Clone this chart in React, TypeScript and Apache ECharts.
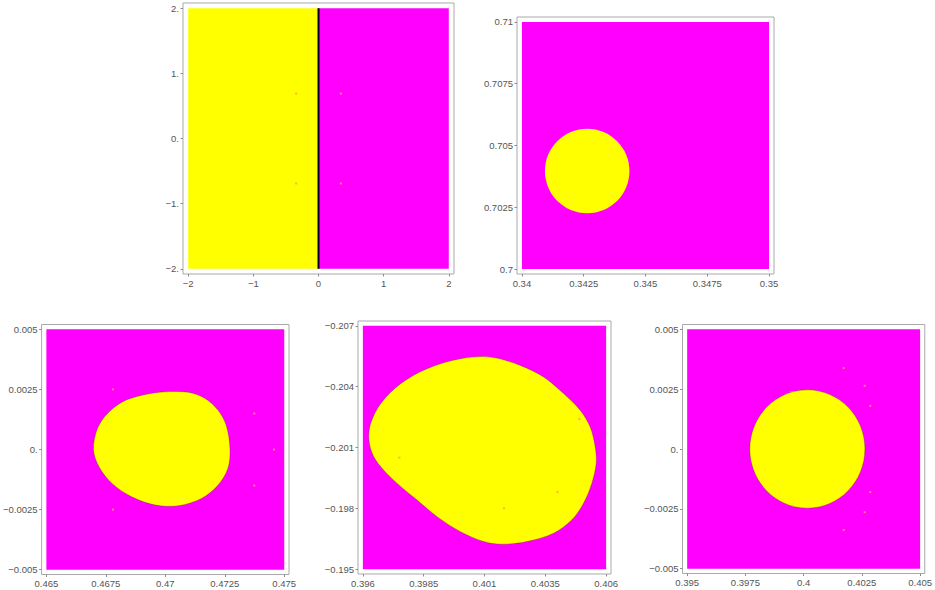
import React, { useEffect, useRef } from 'react';
import * as echarts from 'echarts';

// ---------- data ----------
// Panel 1
const p1XRange = [-2, 2];
const p1YRange = [-2, 2];
const p1XTicks = [-2, -1, 0, 1, 2];
const p1XLabels = ['−2', '−1', '0', '1', '2'];
const p1YTicks = [-2, -1, 0, 1, 2];
const p1YLabels = ['−2.', '−1.', '0.', '1.', '2.'];
const p1Split = 0; // yellow basin for x < 0, magenta for x > 0
const p1Dots = [[-0.343, 0.69], [0.343, 0.69], [-0.343, -0.69], [0.343, -0.69]];

// Panel 2
const p2XRange = [0.34, 0.35];
const p2YRange = [0.7, 0.71];
const p2XTicks = [0.34, 0.3425, 0.345, 0.3475, 0.35];
const p2XLabels = ['0.34', '0.3425', '0.345', '0.3475', '0.35'];
const p2YTicks = [0.7, 0.7025, 0.705, 0.7075, 0.71];
const p2YLabels = ['0.7', '0.7025', '0.705', '0.7075', '0.71'];
const p2Circle = [0.34264, 0.70397, 0.00171]; // cx, cy, r

// Panel 3
const p3XRange = [0.465, 0.475];
const p3YRange = [-0.005, 0.005];
const p3XTicks = [0.465, 0.4675, 0.47, 0.4725, 0.475];
const p3XLabels = ['0.465', '0.4675', '0.47', '0.4725', '0.475'];
const p3YTicks = [-0.005, -0.0025, 0, 0.0025, 0.005];
const p3YLabels = ['−0.005', '−0.0025', '0.', '0.0025', '0.005'];
const p3Outline = [
  [0.46698, 0], [0.46715, 0.00088], [0.46757, 0.0015], [0.46819, 0.00198],
  [0.46902, 0.00226], [0.47, 0.0024], [0.47097, 0.00238], [0.47166, 0.00213],
  [0.47221, 0.00164], [0.47256, 0.00101], [0.47272, 0], [0.47263, -0.00079],
  [0.47221, -0.00149], [0.47152, -0.00204], [0.47055, -0.00234], [0.46958, -0.00231],
  [0.46861, -0.00198], [0.46777, -0.00142], [0.46722, -0.00073],
];
const p3Dots = [[0.47374, 0.0015], [0.47374, -0.0015], [0.47457, 0], [0.4678, 0.0025], [0.4678, -0.0025]];

// Panel 4
const p4XRange = [0.396, 0.406];
const p4YRange = [-0.207, -0.195];
const p4XTicks = [0.396, 0.3985, 0.401, 0.4035, 0.406];
const p4XLabels = ['0.396', '0.3985', '0.401', '0.4035', '0.406'];
const p4YTicks = [-0.207, -0.204, -0.201, -0.198, -0.195];
const p4YLabels = ['−0.207', '−0.204', '−0.201', '−0.198', '−0.195'];
const p4Outline = [
  [0.40124, -0.20546], [0.40247, -0.20505], [0.40343, -0.20448], [0.40425, -0.20366],
  [0.40493, -0.20284], [0.40534, -0.20202], [0.40555, -0.20103], [0.40559, -0.20021],
  [0.40541, -0.19923], [0.40507, -0.19825], [0.40459, -0.19743], [0.40384, -0.19677],
  [0.40274, -0.19636], [0.40172, -0.19623], [0.40097, -0.19636], [0.40001, -0.19685],
  [0.39905, -0.19759], [0.39823, -0.19841], [0.39741, -0.19923], [0.39686, -0.19988],
  [0.39645, -0.20054], [0.39625, -0.20136], [0.39632, -0.20218], [0.39673, -0.20316],
  [0.39755, -0.20415], [0.39864, -0.20489], [0.40001, -0.20538],
];
const p4Dots = [[0.4049, -0.2024], [0.4040, -0.1988], [0.3975, -0.2005], [0.4018, -0.1980]];

// Panel 5
const p5XRange = [0.395, 0.405];
const p5YRange = [-0.005, 0.005];
const p5XTicks = [0.395, 0.3975, 0.4, 0.4025, 0.405];
const p5XLabels = ['0.395', '0.3975', '0.4', '0.4025', '0.405'];
const p5YTicks = [-0.005, -0.0025, 0, 0.0025, 0.005];
const p5YLabels = ['−0.005', '−0.0025', '0.', '0.0025', '0.005'];
const p5Circle = [0.40016, 0, 0.00247];
const p5Dots = [[0.40172, 0.00338], [0.40172, -0.00338], [0.40262, 0.00264], [0.40262, -0.00264], [0.40286, 0.0018], [0.40286, -0.0018]];

// ---------- styling / layout ----------
const YELLOW = '#ffff00';
const MAGENTA = '#ff00ff';
const FONT = "'Liberation Sans', Arial, sans-serif";

const layouts = [
  { left: 183, top: 3, width: 271, height: 271 },
  { left: 517, top: 17, width: 257, height: 257 },
  { left: 39, top: 324.5, width: 250, height: 250 },
  { left: 358, top: 321, width: 253, height: 253 },
  { left: 682.5, top: 324.5, width: 250, height: 249 },
];

type Panel = {
  xr: number[]; yr: number[];
  xt: number[]; xl: string[]; yt: number[]; yl: string[];
  inverseY?: boolean;
  split?: number;
  circle?: number[];
  outline?: number[][];
  dots: number[][];
  edge?: boolean;
};

const panels: Panel[] = [
  { xr: p1XRange, yr: p1YRange, xt: p1XTicks, xl: p1XLabels, yt: p1YTicks, yl: p1YLabels, split: p1Split, dots: p1Dots },
  { xr: p2XRange, yr: p2YRange, xt: p2XTicks, xl: p2XLabels, yt: p2YTicks, yl: p2YLabels, circle: p2Circle, dots: [] },
  { xr: p3XRange, yr: p3YRange, xt: p3XTicks, xl: p3XLabels, yt: p3YTicks, yl: p3YLabels, outline: p3Outline, dots: p3Dots, edge: true },
  { xr: p4XRange, yr: p4YRange, xt: p4XTicks, xl: p4XLabels, yt: p4YTicks, yl: p4YLabels, inverseY: true, outline: p4Outline, dots: p4Dots, edge: true },
  { xr: p5XRange, yr: p5YRange, xt: p5XTicks, xl: p5XLabels, yt: p5YTicks, yl: p5YLabels, circle: p5Circle, dots: p5Dots, edge: true },
];

function labelFor(ticks: number[], labels: string[]) {
  return (v: number) => {
    const span = Math.abs(ticks[ticks.length - 1] - ticks[0]);
    const i = ticks.findIndex((t) => Math.abs(t - v) < span * 1e-6);
    return i >= 0 ? labels[i] : '';
  };
}

function buildOption() {
  const grid: any[] = [];
  const xAxis: any[] = [];
  const yAxis: any[] = [];
  const series: any[] = [];
  panels.forEach((p, i) => {
    grid.push({
      ...layouts[i],
      show: true,
      borderColor: '#a9a9a9',
      borderWidth: 1,
      backgroundColor: 'rgba(0,0,0,0)',
      containLabel: false,
    });
    const padX = (p.xr[1] - p.xr[0]) * 0.02;
    const padY = (p.yr[1] - p.yr[0]) * 0.02;
    const common = {
      type: 'value',
      gridIndex: i,
      axisLine: { show: false, onZero: false },
      splitLine: { show: false },
      axisTick: { show: true, inside: false, length: 2.5, lineStyle: { color: '#8c8c8c', width: 1 } },
    };
    xAxis.push({
      ...common,
      position: 'bottom',
      min: p.xr[0] - padX,
      max: p.xr[1] + padX,
      axisTick: { ...common.axisTick, customValues: p.xt },
      axisLabel: {
        customValues: p.xt,
        formatter: labelFor(p.xt, p.xl),
        fontSize: 9.5,
        color: '#555',
        fontFamily: FONT,
        margin: 4,
      },
    });
    yAxis.push({
      ...common,
      position: 'left',
      min: p.yr[0] - padY,
      max: p.yr[1] + padY,
      inverse: !!p.inverseY,
      axisTick: { ...common.axisTick, customValues: p.yt },
      axisLabel: {
        customValues: p.yt,
        formatter: labelFor(p.yt, p.yl),
        fontSize: 9.5,
        color: '#555',
        fontFamily: FONT,
        margin: 4,
      },
    });
    series.push({
      type: 'custom',
      xAxisIndex: i,
      yAxisIndex: i,
      silent: true,
      clip: false,
      data: [[p.xr[0], p.yr[0]]],
      renderItem: (params: any, api: any) => {
        const a = api.coord([p.xr[0], p.yr[0]]);
        const b = api.coord([p.xr[1], p.yr[1]]);
        const x0 = Math.min(a[0], b[0]);
        const y0 = Math.min(a[1], b[1]);
        const w = Math.abs(b[0] - a[0]);
        const h = Math.abs(b[1] - a[1]);
        const children: any[] = [];
        if (p.split !== undefined) {
          const s = api.coord([p.split, p.yr[0]])[0];
          children.push({ type: 'rect', shape: { x: x0, y: y0, width: s - x0, height: h }, style: { fill: YELLOW } });
          children.push({ type: 'rect', shape: { x: s, y: y0, width: x0 + w - s, height: h }, style: { fill: MAGENTA } });
          const top = api.coord([p.split, p.yr[1]]);
          const bot = api.coord([p.split, p.yr[0]]);
          children.push({ type: 'line', shape: { x1: top[0], y1: top[1], x2: bot[0], y2: bot[1] }, style: { stroke: '#000', lineWidth: 2 } });
        } else {
          children.push({ type: 'rect', shape: { x: x0, y: y0, width: w, height: h }, style: { fill: MAGENTA } });
        }
        const edgeStyle = p.edge ? { stroke: 'rgba(50,35,25,0.35)', lineWidth: 0.8 } : {};
        if (p.circle) {
          const c = api.coord([p.circle[0], p.circle[1]]);
          const rx = api.size([p.circle[2], 0])[0];
          const ry = api.size([0, p.circle[2]])[1];
          children.push({ type: 'ellipse', shape: { cx: c[0], cy: c[1], rx, ry }, style: { fill: YELLOW, ...edgeStyle } });
        }
        if (p.outline) {
          const pts = p.outline.map((q) => api.coord(q));
          children.push({ type: 'polygon', shape: { points: pts, smooth: 0.33 }, style: { fill: YELLOW, ...edgeStyle } });
        }
        return { type: 'group', children };
      },
    });
    if (p.dots.length) {
      series.push({
        type: 'scatter',
        xAxisIndex: i,
        yAxisIndex: i,
        silent: true,
        symbol: 'rect',
        symbolSize: 2,
        data: p.dots,
        itemStyle: { color: '#ff9966' },
        z: 5,
      });
    }
  });
  return { animation: false, grid, xAxis, yAxis, series };
}

export default function App() {
  const ref = useRef<HTMLDivElement>(null);
  useEffect(() => {
    if (!ref.current) return;
    const chart = echarts.init(ref.current, undefined, { renderer: 'svg' });
    chart.setOption(buildOption() as any);
    return () => chart.dispose();
  }, []);
  return (
    <div
      ref={ref}
      style={{ position: 'absolute', left: 0, top: 0, width: 935, height: 590, background: '#fff' }}
    />
  );
}
